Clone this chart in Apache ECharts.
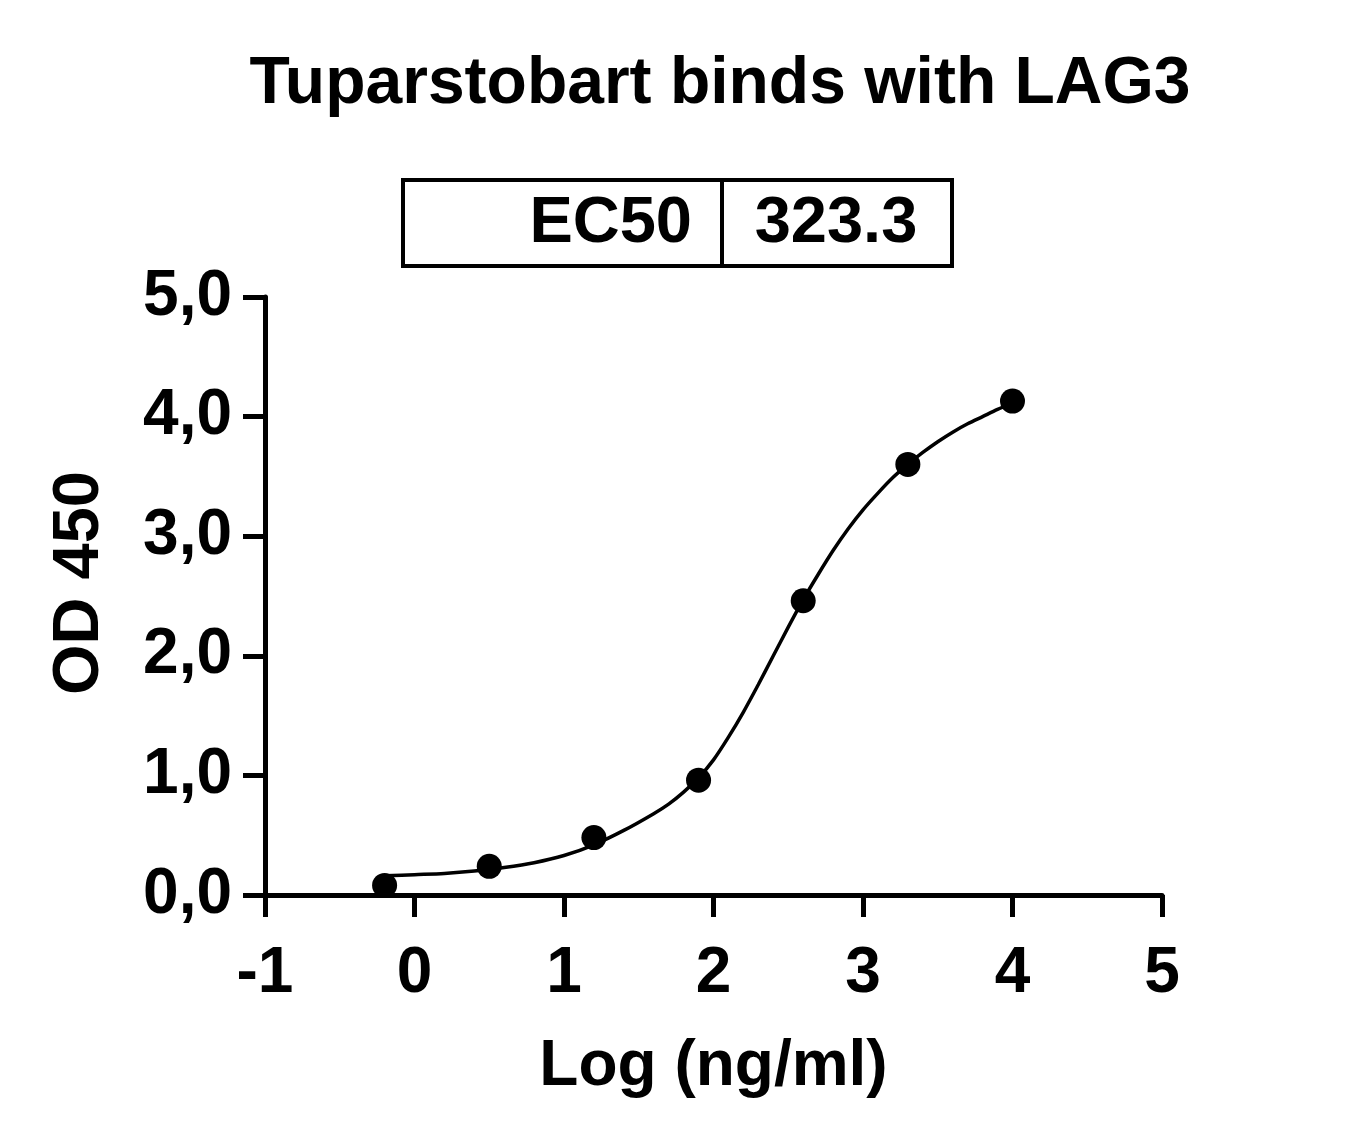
<!DOCTYPE html>
<html>
<head>
<meta charset="utf-8">
<title>Tuparstobart binds with LAG3</title>
<script src="https://cdn.jsdelivr.net/npm/echarts@6/dist/echarts.min.js"></script>
<style>
  html, body { margin: 0; padding: 0; background: #fff; }
  #chart { width: 1362px; height: 1142px; }
</style>
</head>
<body>
<div id="chart"></div>
<script>
  const FONT = '"Liberation Sans", Arial, Helvetica, sans-serif';

  // measured points: log concentration vs OD 450
  const logConc = [-0.2, 0.5, 1.2, 1.9, 2.6, 3.3, 4.0];
  const od450 = [0.08, 0.24, 0.48, 0.96, 2.46, 3.60, 4.13];

  // fitted curve
  const fitX = [-0.2, 0.0, 0.2, 0.4, 0.6, 0.8, 1.0, 1.2, 1.4, 1.6,
                1.7, 1.8, 1.9, 2.0, 2.1, 2.2, 2.3, 2.4, 2.5, 2.6,
                2.7, 2.8, 2.9, 3.0, 3.1, 3.2, 3.3, 3.4, 3.5, 3.6,
                3.7, 3.8, 3.9, 4.0];
  const fitY = [0.16, 0.17, 0.18, 0.20, 0.23, 0.27, 0.33, 0.42, 0.54, 0.68,
                0.76, 0.86, 0.98, 1.13, 1.32, 1.53, 1.76, 2.00, 2.24, 2.47,
                2.68, 2.88, 3.06, 3.22, 3.36, 3.49, 3.60, 3.70, 3.79, 3.87,
                3.94, 4.00, 4.06, 4.11];

  const ec50Label = 'EC50';
  const ec50Value = '323.3';

  const chart = echarts.init(document.getElementById('chart'), null, { renderer: 'canvas' });

  const boxL = 403, boxR = 952, boxT = 180, boxB = 266, boxMid = 722;

  chart.setOption({
    animation: false,
    backgroundColor: '#fff',
    title: {
      text: 'Tuparstobart binds with LAG3',
      left: 715,
      textAlign: 'center',
      top: 47,
      textStyle: { fontFamily: FONT, fontWeight: 'bold', fontSize: 66, color: '#000' }
    },
    grid: { left: 265, right: 200, top: 297, bottom: 247, containLabel: false },
    xAxis: {
      type: 'value',
      min: -1, max: 5, interval: 1,
      name: 'Log (ng/ml)',
      nameLocation: 'middle',
      nameGap: 140,
      nameTextStyle: { fontFamily: FONT, fontWeight: 'bold', fontSize: 64, color: '#000' },
      axisLine: { show: true, onZero: false, lineStyle: { color: '#000', width: 5 } },
      axisTick: { show: true, length: 22, lineStyle: { color: '#000', width: 5 } },
      axisLabel: {
        margin: 47,
        fontFamily: FONT, fontWeight: 'bold', fontSize: 64, color: '#000'
      },
      splitLine: { show: false }
    },
    yAxis: {
      type: 'value',
      min: 0, max: 5, interval: 1,
      name: 'OD 450',
      nameLocation: 'middle',
      nameGap: 152,
      nameRotate: 90,
      nameTextStyle: {
        fontFamily: FONT, fontWeight: 'bold', fontSize: 65, color: '#000',
        padding: [0, 0, 0, 26]
      },
      axisLine: { show: true, onZero: false, lineStyle: { color: '#000', width: 5 } },
      axisTick: { show: true, length: 22, lineStyle: { color: '#000', width: 5 } },
      axisLabel: {
        margin: 33,
        fontFamily: FONT, fontWeight: 'bold', fontSize: 64, color: '#000',
        formatter: v => v.toFixed(1).replace('.', ',')
      },
      splitLine: { show: false }
    },
    series: [
      {
        name: 'fit',
        type: 'line',
        data: fitX.map((x, i) => [x, fitY[i]]),
        smooth: 0.3,
        showSymbol: false,
        lineStyle: { color: '#000', width: 3.5 },
        z: 2
      },
      {
        name: 'OD 450',
        type: 'scatter',
        data: logConc.map((x, i) => [x, od450[i]]),
        symbol: 'circle',
        symbolSize: 25,
        itemStyle: { color: '#000', opacity: 1 },
        z: 3
      }
    ],
    graphic: [
      {
        type: 'rect',
        shape: { x: boxL, y: boxT, width: boxR - boxL, height: boxB - boxT },
        style: { fill: '#fff', stroke: '#000', lineWidth: 4 }
      },
      {
        type: 'line',
        shape: { x1: boxMid, y1: boxT, x2: boxMid, y2: boxB },
        style: { stroke: '#000', lineWidth: 4 }
      },
      {
        type: 'text',
        x: 692, y: (boxT + boxB) / 2 + 1,
        style: {
          text: ec50Label, align: 'right', verticalAlign: 'middle',
          font: 'bold 65px ' + FONT, fill: '#000'
        }
      },
      {
        type: 'text',
        x: 836, y: (boxT + boxB) / 2 + 1,
        style: {
          text: ec50Value, align: 'center', verticalAlign: 'middle',
          font: 'bold 65px ' + FONT, fill: '#000'
        }
      }
    ]
  });
</script>
</body>
</html>
